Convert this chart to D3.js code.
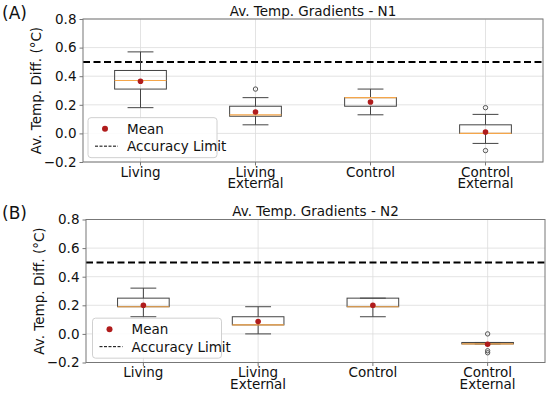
<!DOCTYPE html>
<html>
<head>
<meta charset="utf-8">
<script src="https://cdn.jsdelivr.net/npm/d3@7"></script>
<style>
  body { margin: 0; background: #fff; }
  text { font-family: "DejaVu Sans", sans-serif; fill: #111; }
</style>
</head>
<body>
<div id="chart"></div>
<script>
// categories (two-line labels)
const categories = [["Living"], ["Living", "External"], ["Control"], ["Control", "External"]];
const yTicks = [-0.2, 0.0, 0.2, 0.4, 0.6, 0.8];
const accuracyLimit = 0.5;

// panel A (N1): [whiskerLow, q1, median, q3, whiskerHigh]
const statsN1 = [
  [0.18, 0.31, 0.37, 0.44, 0.57],
  [0.06, 0.12, 0.13, 0.19, 0.25],
  [0.13, 0.19, 0.25, 0.25, 0.31],
  [-0.07, 0.0, 0.0, 0.06, 0.133]
];
const meansN1 = [0.365, 0.15, 0.22, 0.01];
const outliersN1 = [[], [0.31], [], [0.18, -0.12]];

// panel B (N2)
const statsN2 = [
  [0.12, 0.19, 0.19, 0.25, 0.32],
  [0.0, 0.063, 0.063, 0.12, 0.19],
  [0.12, 0.19, 0.19, 0.25, 0.25],
  [-0.07, -0.07, -0.07, -0.06, -0.06]
];
const meansN2 = [0.2, 0.086, 0.2, -0.072];
const outliersN2 = [[], [], [], [0.0, -0.118, -0.132]];

const panels = [
  { tag: "(A)", title: "Av. Temp. Gradients - N1", stats: statsN1, means: meansN1, outliers: outliersN1,
    left: 83, right: 543, top: 19, bottom: 162, offset: 0, legendLeft: 88 },
  { tag: "(B)", title: "Av. Temp. Gradients - N2", stats: statsN2, means: meansN2, outliers: outliersN2,
    left: 86, right: 545, top: 219.5, bottom: 362.5, offset: 200, legendLeft: 92.5 }
];

const svg = d3.select("#chart").append("svg").attr("width", 550).attr("height", 395);

const boxColor = "#444";
const medianColor = "#f5a64a";
const meanColor = "#b01c1c";
const fs = 13.5;

panels.forEach((p) => {
  const g = svg.append("g");
  const x = d3.scaleBand().domain(d3.range(4)).range([p.left, p.right]);
  const y = d3.scaleLinear().domain([-0.2, 0.8]).range([p.bottom, p.top]);
  const cx = (i) => x(i) + x.bandwidth() / 2;
  const boxW = x.bandwidth() * 0.45;
  const capW = boxW / 2;

  // grid
  g.selectAll(".hgrid").data(yTicks).enter().append("line")
    .attr("x1", p.left).attr("x2", p.right)
    .attr("y1", (d) => y(d)).attr("y2", (d) => y(d))
    .attr("stroke", "#dcdcdc").attr("stroke-width", 0.8);
  g.selectAll(".vgrid").data(d3.range(4)).enter().append("line")
    .attr("x1", cx).attr("x2", cx)
    .attr("y1", p.top).attr("y2", p.bottom)
    .attr("stroke", "#dcdcdc").attr("stroke-width", 0.8);

  // accuracy limit
  g.append("line")
    .attr("x1", p.left).attr("x2", p.right)
    .attr("y1", y(accuracyLimit)).attr("y2", y(accuracyLimit))
    .attr("stroke", "#000").attr("stroke-width", 2)
    .attr("stroke-dasharray", "7,3.5");

  // boxes
  const bx = g.selectAll(".box").data(p.stats).enter().append("g");
  // whiskers
  bx.append("line")
    .attr("x1", (d, i) => cx(i)).attr("x2", (d, i) => cx(i))
    .attr("y1", (d) => y(d[0])).attr("y2", (d) => y(d[1]))
    .attr("stroke", boxColor).attr("stroke-width", 1);
  bx.append("line")
    .attr("x1", (d, i) => cx(i)).attr("x2", (d, i) => cx(i))
    .attr("y1", (d) => y(d[3])).attr("y2", (d) => y(d[4]))
    .attr("stroke", boxColor).attr("stroke-width", 1);
  // caps
  [0, 4].forEach((k) => {
    bx.append("line")
      .attr("x1", (d, i) => cx(i) - capW / 2).attr("x2", (d, i) => cx(i) + capW / 2)
      .attr("y1", (d) => y(d[k])).attr("y2", (d) => y(d[k]))
      .attr("stroke", boxColor).attr("stroke-width", 1);
  });
  bx.append("rect")
    .attr("x", (d, i) => cx(i) - boxW / 2)
    .attr("width", boxW)
    .attr("y", (d) => y(d[3]))
    .attr("height", (d) => Math.max(1, y(d[1]) - y(d[3])))
    .attr("fill", "none").attr("stroke", boxColor).attr("stroke-width", 1);
  bx.append("line")
    .attr("x1", (d, i) => cx(i) - boxW / 2).attr("x2", (d, i) => cx(i) + boxW / 2)
    .attr("y1", (d) => y(d[2])).attr("y2", (d) => y(d[2]))
    .attr("stroke", medianColor).attr("stroke-width", 1.2);

  // outliers
  p.outliers.forEach((vals, i) => {
    g.selectAll(null).data(vals).enter().append("circle")
      .attr("cx", cx(i)).attr("cy", (d) => y(d)).attr("r", 2.2)
      .attr("fill", "none").attr("stroke", "#555").attr("stroke-width", 1);
  });

  // means
  g.selectAll(".mean").data(p.means).enter().append("circle")
    .attr("cx", (d, i) => cx(i)).attr("cy", (d) => y(d)).attr("r", 2.8)
    .attr("fill", meanColor);

  // frame
  g.append("rect")
    .attr("x", p.left).attr("y", p.top)
    .attr("width", p.right - p.left).attr("height", p.bottom - p.top)
    .attr("fill", "none").attr("stroke", "#777").attr("stroke-width", 1);

  // y axis
  const yAxis = g.append("g").attr("transform", `translate(${p.left},0)`)
    .call(d3.axisLeft(y).tickValues(yTicks).tickFormat((d) => d3.format(".1f")(d).replace("-", "\u2212")).tickSize(3.5).tickPadding(3));
  yAxis.select(".domain").remove();
  yAxis.selectAll("line").attr("stroke", "#777");
  yAxis.selectAll("text").attr("font-size", fs).attr("fill", "#111")
    .attr("font-family", "DejaVu Sans");

  // x labels
  categories.forEach((lines, i) => {
    const t = g.append("text").attr("text-anchor", "middle").attr("font-size", fs)
      .attr("x", cx(i)).attr("y", p.bottom + 14.5);
    lines.forEach((s, j) => {
      t.append("tspan").attr("x", cx(i)).attr("dy", j === 0 ? 0 : 11.5).text(s);
    });
  });
  g.selectAll(".xt").data(d3.range(4)).enter().append("line")
    .attr("x1", cx).attr("x2", cx).attr("y1", p.bottom).attr("y2", p.bottom + 3.5)
    .attr("stroke", "#777");

  // y label
  g.append("text")
    .attr("transform", `translate(${p.left - 42},${(p.top + p.bottom) / 2}) rotate(-90)`)
    .attr("text-anchor", "middle").attr("font-size", fs)
    .text("Av. Temp. Diff. (\u00b0C)");

  // title
  g.append("text").attr("x", (p.left + p.right) / 2).attr("y", p.top - 3.5)
    .attr("text-anchor", "middle").attr("font-size", 13.5).text(p.title);

  // panel tag
  g.append("text").attr("x", 2).attr("y", p.offset + 19)
    .attr("font-size", 17).text(p.tag);

  // legend
  const lg = g.append("g").attr("transform", `translate(${p.legendLeft},${y(0.11)})`);
  lg.append("rect").attr("width", 129).attr("height", 40).attr("rx", 3)
    .attr("fill", "rgba(255,255,255,0.85)").attr("stroke", "#d0d0d0");
  lg.append("circle").attr("cx", 17).attr("cy", 11).attr("r", 3).attr("fill", meanColor);
  lg.append("text").attr("x", 39).attr("y", 16).attr("font-size", fs).text("Mean");
  lg.append("line").attr("x1", 7).attr("x2", 30).attr("y1", 28.5).attr("y2", 28.5)
    .attr("stroke", "#000").attr("stroke-width", 1).attr("stroke-dasharray", "3,1.5");
  lg.append("text").attr("x", 39).attr("y", 33.5).attr("font-size", fs).text("Accuracy Limit");
});
</script>
</body>
</html>
